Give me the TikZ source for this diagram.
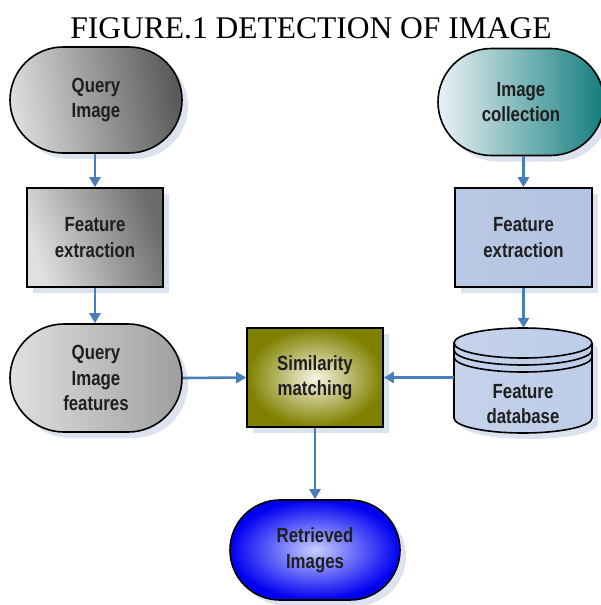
\documentclass[tikz,border=0pt]{standalone}
\usepackage{fontspec}
\setmainfont{Liberation Serif}
\newfontfamily\labelfont[FakeStretch=0.82]{Liberation Sans}
\usetikzlibrary{shapes.misc,shadows,arrows.meta}
\definecolor{arrowblue}{HTML}{4A7EBB}
\definecolor{shadowc}{HTML}{DCE3EF}
\definecolor{iclight}{RGB}{234,242,246}
\definecolor{icdark}{RGB}{20,125,125}
\definecolor{feblue}{RGB}{184,200,228}
\definecolor{feblueL}{RGB}{232,238,248}
\definecolor{feblueR}{RGB}{178,196,226}
\definecolor{simin}{RGB}{246,246,226}
\definecolor{simout}{RGB}{128,128,0}
\definecolor{riin}{RGB}{200,206,255}
\definecolor{riout}{RGB}{0,0,240}
\definecolor{dbL}{RGB}{196,210,234}
\definecolor{dbM}{RGB}{226,233,246}
\definecolor{dbR}{RGB}{190,205,232}
\tikzset{
  lbl/.style={font=\labelfont\bfseries\fontsize{20.5}{25.5}\selectfont, align=center, text=black!88},
  boxshape/.style={lbl, draw=black, line width=1.6pt, rectangle, inner sep=0pt,
    drop shadow={shadow xshift=6pt, shadow yshift=-6pt, fill=shadowc, opacity=1}},
  pillshape/.style={lbl, draw=black, line width=1.6pt, rounded rectangle, rounded rectangle arc length=180, inner sep=0pt,
    drop shadow={shadow xshift=6pt, shadow yshift=-6pt, fill=shadowc, opacity=1}},
  arr/.style={draw=arrowblue, line width=2.6pt, -{Triangle[length=10pt,width=11pt]}},
}
\begin{document}
\begin{tikzpicture}[x=1pt,y=-1pt]
\useasboundingbox (0,0) rectangle (601,605);
\fill[white] (0,0) rectangle (601,605);
% title
\node[anchor=base, inner sep=0pt, font=\fontsize{31.5}{34}\selectfont] (title) at (311,38) {FIGURE.1 DETECTION OF IMAGE};
% nodes
\node[pillshape, minimum width=172pt, minimum height=106pt, left color=black!14, right color=black!65, shading angle=100] (qi) at (96,100) {Query\\Image};
\node[pillshape, minimum width=166pt, minimum height=107pt, left color=iclight, right color=icdark] (ic) at (521,102) {Image\\collection};
\node[boxshape, minimum width=136pt, minimum height=99pt, left color=black!12, right color=black!58, shading angle=110] (fe1) at (95,237.5) {Feature\\extraction};
\node[boxshape, minimum width=137pt, minimum height=99pt, left color=feblue, middle color=feblueL, right color=feblueR] (fe2) at (523.5,237.5) {Feature\\extraction};
\node[pillshape, minimum width=172pt, minimum height=108pt, left color=black!12, right color=black!38] (qif) at (96,378) {Query\\Image\\features};
\node[boxshape, minimum width=136pt, minimum height=99pt, inner color=simin, outer color=simout] (sim) at (315,377.5) {Similarity\\matching};
\node[pillshape, minimum width=170pt, minimum height=100pt, inner color=riin, outer color=riout] (ri) at (315,550) {Retrieved\\Images};
% database cylinder
\node[rectangle, minimum width=138pt, minimum height=105pt, inner sep=0pt] (db) at (523,380.5) {};
\fill[shadowc] (460,349) -- (460,424) arc[start angle=180,end angle=0,x radius=69,y radius=15] -- (598,349) arc[start angle=0,end angle=-180,x radius=69,y radius=15] -- cycle;
\path[left color=dbL, middle color=dbM, right color=dbR] (454,343) -- (454,418) arc[start angle=180,end angle=0,x radius=69,y radius=15] -- (592,343) arc[start angle=0,end angle=-180,x radius=69,y radius=15] -- cycle;
\draw[line width=1.6pt] (454,343) -- (454,418) arc[start angle=180,end angle=0,x radius=69,y radius=15] -- (592,343);
\draw[line width=1.6pt] (523,343) ellipse[x radius=69, y radius=15];
\draw[line width=1.6pt] (454,350) arc[start angle=180,end angle=0,x radius=69,y radius=15];
\draw[line width=1.6pt] (454,357) arc[start angle=180,end angle=0,x radius=69,y radius=15];
\node[lbl] (dbl) at (523,404) {Feature\\database};
% connectors
\draw[arr] (fe1.north |- qi.south) -- (fe1.north);
\draw[arr] (fe2.north |- ic.south) -- (fe2.north);
\draw[arr] (fe1.south) -- (fe1.south |- qif.north);
\draw[arr] (fe2.south) -- (fe2.south |- db.north);
\draw[arr] (qif.east) -- (sim.west);
\draw[arr] (db.west |- sim.east) -- (sim.east);
\draw[arr] (sim.south) -- (ri.north);
\end{tikzpicture}
\end{document}
